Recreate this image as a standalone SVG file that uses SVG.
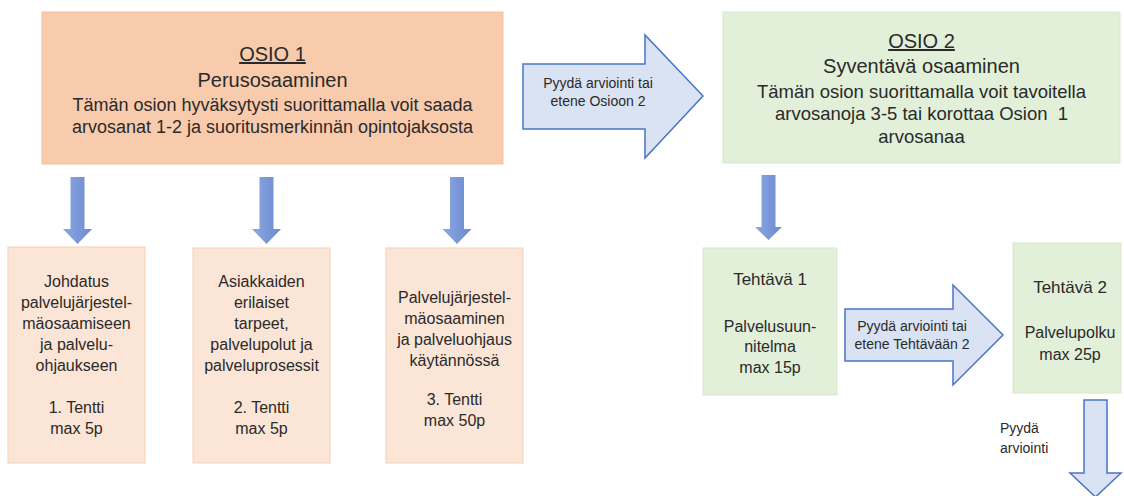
<svg xmlns="http://www.w3.org/2000/svg" width="1124" height="496" viewBox="0 0 1124 496">
  <defs>
    <linearGradient id="blueGrad" x1="0" y1="0" x2="1" y2="0">
      <stop offset="0" stop-color="#8fa9e0"/>
      <stop offset="0.5" stop-color="#7a98d9"/>
      <stop offset="1" stop-color="#6c8bd0"/>
    </linearGradient>
  </defs>
  <style>
    text { font-family: "Liberation Sans", Arial, sans-serif; fill: #2a2a2a; text-anchor: middle; }
    .main1 { fill: #f8cbad; stroke: #f4c09c; stroke-width: 1; }
    .sub1 { fill: #fbe5d6; stroke: #f6cfb4; stroke-width: 1; }
    .main2 { fill: #e2efd9; stroke: #d8e8cc; stroke-width: 1; }
    .sub2 { fill: #e2efd9; stroke: #d8e8cc; stroke-width: 1; }
    .solid { fill: url(#blueGrad); }
    .block { fill: #dae3f3; stroke: #4a76c6; stroke-width: 1.5; stroke-linejoin: miter; }
    .h { font-size: 20px; }
    .b18 { font-size: 18px; }
    .b185 { font-size: 18.5px; }
    .s16 { font-size: 16px; }
    .t17 { font-size: 17px; }
    .lbl { font-size: 14px; }
  </style>
  <rect width="1124" height="496" fill="#ffffff"/>

  <g id="osio1">
    <rect class="main1" x="42" y="12" width="461" height="152"/>
    <text class="h" x="272.5" y="61" text-decoration="underline">OSIO 1</text>
    <text class="h" x="272.5" y="87">Perusosaaminen</text>
    <text class="b18" x="272.5" y="111">Tämän osion hyväksytysti suorittamalla voit saada</text>
    <text class="b18" x="272.5" y="133">arvosanat 1-2 ja suoritusmerkinnän opintojaksosta</text>
  </g>

  <g id="osio2">
    <rect class="main2" x="723" y="12" width="397" height="151"/>
    <text class="h" x="921.5" y="48" text-decoration="underline">OSIO 2</text>
    <text class="h" x="921.5" y="73">Syventävä osaaminen</text>
    <text class="b185" x="921.5" y="98">Tämän osion suorittamalla voit tavoitella</text>
    <text class="b185" x="921.5" y="120" style="white-space:pre">arvosanoja 3-5 tai korottaa Osion  1</text>
    <text class="b185" x="921.5" y="143">arvosanaa</text>
  </g>

  <g id="tentti1">
    <rect class="sub1" x="8" y="247" width="137" height="216"/>
    <text class="s16" x="76.5" y="287">Johdatus</text>
    <text class="s16" x="76.5" y="308">palvelujärjestel-</text>
    <text class="s16" x="76.5" y="329">mäosaamiseen</text>
    <text class="s16" x="76.5" y="350">ja palvelu-</text>
    <text class="s16" x="76.5" y="371">ohjaukseen</text>
    <text class="s16" x="76.5" y="413">1. Tentti</text>
    <text class="s16" x="76.5" y="434">max 5p</text>
  </g>

  <g id="tentti2">
    <rect class="sub1" x="193" y="248" width="137" height="215"/>
    <text class="s16" x="261.5" y="287">Asiakkaiden</text>
    <text class="s16" x="261.5" y="308">erilaiset</text>
    <text class="s16" x="261.5" y="329">tarpeet,</text>
    <text class="s16" x="261.5" y="350">palvelupolut ja</text>
    <text class="s16" x="261.5" y="371">palveluprosessit</text>
    <text class="s16" x="261.5" y="413">2. Tentti</text>
    <text class="s16" x="261.5" y="434">max 5p</text>
  </g>

  <g id="tentti3">
    <rect class="sub1" x="386" y="248" width="137" height="215"/>
    <text class="s16" x="454.5" y="303">Palvelujärjestel-</text>
    <text class="s16" x="454.5" y="324">mäosaaminen</text>
    <text class="s16" x="454.5" y="345">ja palveluohjaus</text>
    <text class="s16" x="454.5" y="366">käytännössä</text>
    <text class="s16" x="454.5" y="405">3. Tentti</text>
    <text class="s16" x="454.5" y="426">max 50p</text>
  </g>

  <g id="tehtava1">
    <rect class="sub2" x="703" y="248" width="134" height="147"/>
    <text class="t17" x="770" y="285">Tehtävä 1</text>
    <text class="s16" x="770" y="332">Palvelusuun-</text>
    <text class="s16" x="770" y="352">nitelma</text>
    <text class="s16" x="770" y="373">max 15p</text>
  </g>

  <g id="tehtava2">
    <rect class="sub2" x="1013" y="243" width="108" height="150"/>
    <text class="t17" x="1070" y="293">Tehtävä 2</text>
    <text class="s16" x="1070" y="338">Palvelupolku</text>
    <text class="s16" x="1070" y="360">max 25p</text>
  </g>

  <g id="connectors">
    <!-- solid down arrows from OSIO 1 -->
    <polygon class="solid" points="70.5,177 84.5,177 84.5,229 92,229 77.5,244 63,229 70.5,229"/>
    <polygon class="solid" points="259.5,177 273.5,177 273.5,229 281,229 266.5,244 252,229 259.5,229"/>
    <polygon class="solid" points="450,177 464,177 464,229 471.5,229 457,244 442.5,229 450,229"/>
    <!-- solid down arrow from OSIO 2 -->
    <polygon class="solid" points="761.5,175 775.5,175 775.5,227 782,227 768.5,240 755,227 761.5,227"/>

    <!-- block arrow OSIO 1 -> OSIO 2 -->
    <polygon class="block" points="523,64 645,64 645,35 703,96 645,158 645,129 523,129"/>
    <text class="lbl" x="598" y="88">Pyydä arviointi tai</text>
    <text class="lbl" x="598" y="106">etene Osioon 2</text>

    <!-- block arrow Tehtävä 1 -> Tehtävä 2 -->
    <polygon class="block" points="845,309 953,309 953,285 1003,335 953,385 953,361 845,361"/>
    <text class="lbl" x="912" y="331">Pyydä arviointi tai</text>
    <text class="lbl" x="912" y="349">etene Tehtävään 2</text>

    <!-- block down arrow from Tehtävä 2 -->
    <polygon class="block" points="1084,400 1107,400 1107,473 1121,473 1095.5,497 1070,473 1084,473"/>
    <text class="lbl" x="1000" y="433" style="text-anchor:start">Pyydä</text>
    <text class="lbl" x="1000" y="453" style="text-anchor:start">arviointi</text>
  </g>
</svg>
